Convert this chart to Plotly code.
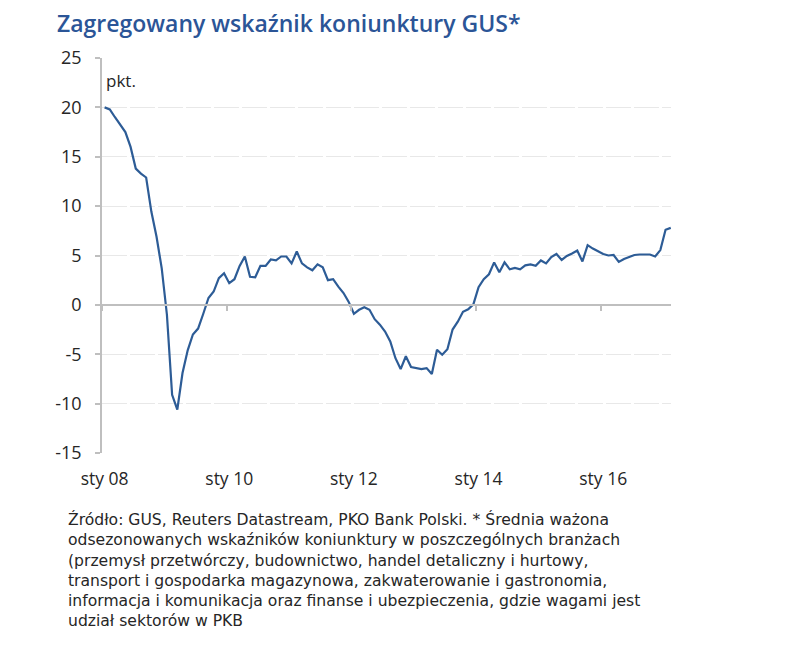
import plotly.graph_objects as go

# miesiące: sty 08 ... lut 17
MONTH_NAMES = ["sty", "lut", "mar", "kwi", "maj", "cze",
               "lip", "sie", "wrz", "paź", "lis", "gru"]
YEARS = ["08", "09", "10", "11", "12", "13", "14", "15", "16", "17"]

# zagregowany wskaźnik koniunktury GUS, pkt.
values_2008 = [20.0, 19.8, 19.0, 18.3, 17.5, 16.0, 13.8, 13.3, 12.9, 9.45, 6.9, 3.7]
values_2009 = [-1.0, -9.1, -10.6, -6.9, -4.6, -3.0, -2.4, -0.9, 0.7, 1.35, 2.7, 3.2]
values_2010 = [2.2, 2.6, 3.95, 4.9, 2.85, 2.8, 3.95, 3.95, 4.6, 4.5, 4.9, 4.9]
values_2011 = [4.2, 5.4, 4.2, 3.8, 3.5, 4.1, 3.8, 2.5, 2.6, 1.85, 1.2, 0.3]
values_2012 = [-0.9, -0.5, -0.25, -0.5, -1.45, -2.0, -2.7, -3.7, -5.4, -6.5, -5.2, -6.3]
values_2013 = [-6.4, -6.5, -6.4, -7.0, -4.55, -5.05, -4.5, -2.5, -1.7, -0.7, -0.45, 0.05]
values_2014 = [1.8, 2.6, 3.1, 4.3, 3.3, 4.3, 3.6, 3.75, 3.6, 4.0, 4.1, 3.95]
values_2015 = [4.5, 4.2, 4.85, 5.15, 4.55, 4.95, 5.2, 5.5, 4.4, 6.05, 5.7, 5.4]
values_2016 = [5.15, 5.0, 5.05, 4.35, 4.65, 4.85, 5.05, 5.1, 5.1, 5.1, 4.9, 5.55]
values_2017 = [7.6, 7.8]

values = (values_2008 + values_2009 + values_2010 + values_2011 + values_2012
          + values_2013 + values_2014 + values_2015 + values_2016 + values_2017)
months = [f"{m} {y}" for y in YEARS for m in MONTH_NAMES][:len(values)]
idx = list(range(len(months)))

label_every = 24
tick_vals = idx[::label_every]
tick_text = [months[i] for i in tick_vals]
boundary_vals = [i - 0.5 for i in tick_vals]

y_ticks = [-15, -10, -5, 0, 5, 10, 15, 20, 25]
y_tick_text = [str(v) for v in y_ticks]  # zwykły łącznik zamiast znaku minus

TITLE = "Zagregowany wskaźnik koniunktury GUS*"
FOOTNOTE = "<br>".join([
    "Źródło: GUS, Reuters Datastream, PKO Bank Polski. * Średnia ważona",
    "odsezonowanych wskaźników koniunktury w poszczególnych branżach",
    "(przemysł przetwórczy, budownictwo, handel detaliczny i hurtowy,",
    "transport i gospodarka magazynowa, zakwaterowanie i gastronomia,",
    "informacja i komunikacja oraz finanse i ubezpieczenia, gdzie wagami jest",
    "udział sektorów w PKB",
])

FONT = "Open Sans"
TEXT_COLOR = "#262626"
AXIS_GREY = "#BFBFBF"
GRID_GREY = "#E8E8E8"
LINE_BLUE = "#2D5C96"

W, H = 786, 651
OFF = 8  # margines strony (body) w przeglądarce
# położenie obszaru wykresu na zrzucie ekranu
L, R, T, B = 101.5, 115, 57.5, 198
pw, ph = W - L - R, H - T - B

x_range = [-0.5, len(values) - 0.95]

fig = go.Figure()
fig.add_trace(go.Scatter(
    x=idx, y=values, mode="lines",
    line=dict(color=LINE_BLUE, width=2.2),
    text=months, hovertemplate="%{text}: %{y:.1f}<extra></extra>",
    showlegend=False,
))
# niewidoczna seria dla osi X na poziomie zera (znaczniki)
fig.add_trace(go.Scatter(
    x=idx, y=values, mode="lines", xaxis="x2",
    line=dict(width=0), opacity=0, hoverinfo="skip", showlegend=False,
))

annotations = [
    dict(text="pkt.", xref="paper", yref="paper",
         x=(104 - L) / pw, y=(H - B - 80) / ph, xanchor="left", yanchor="middle",
         showarrow=False, font=dict(size=17, color=TEXT_COLOR)),
    dict(text=FOOTNOTE, xref="paper", yref="paper", align="left",
         x=(65 - L) / pw, y=-(508 - (H - B)) / ph, xanchor="left", yanchor="top",
         showarrow=False, font=dict(family="DejaVu Sans", size=15.6, color=TEXT_COLOR)),
]

fig.update_layout(
    width=W, height=H,
    margin=dict(l=L - OFF, r=R + OFF, t=T - OFF, b=B + OFF),
    paper_bgcolor="white", plot_bgcolor="white",
    font=dict(family=FONT, color=TEXT_COLOR, size=17),
    title=dict(text=TITLE, x=(57 - OFF) / W, xanchor="left",
               y=1 - (24 - OFF) / H, yanchor="middle",
               font=dict(family=FONT, size=23, weight=600, color="#2B5597")),
    xaxis=dict(
        range=x_range, tickmode="array", tickvals=tick_vals, ticktext=tick_text,
        showgrid=False, zeroline=False, showline=False, ticks="",
        ticklabelstandoff=13, tickfont=dict(size=17.5, color=TEXT_COLOR),
    ),
    xaxis2=dict(
        range=x_range, overlaying="x", anchor="free", position=15 / 40,
        tickmode="array", tickvals=boundary_vals, showticklabels=False,
        ticks="outside", ticklen=5, tickwidth=1.5, tickcolor=AXIS_GREY,
        showline=True, linecolor=AXIS_GREY, linewidth=2,
        showgrid=False, zeroline=False,
    ),
    yaxis=dict(
        range=[-15, 25], tickmode="array", tickvals=y_ticks, ticktext=y_tick_text,
        showline=True, linecolor=AXIS_GREY, linewidth=1.5,
        ticks="outside", ticklen=5, tickwidth=1.5, tickcolor=AXIS_GREY,
        showgrid=True, gridcolor=GRID_GREY, gridwidth=1.2, griddash="25px,3px",
        zeroline=False, ticklabelstandoff=10,
        tickfont=dict(size=18, color=TEXT_COLOR),
    ),
    annotations=annotations,
)

fig.write_html("out.html")
